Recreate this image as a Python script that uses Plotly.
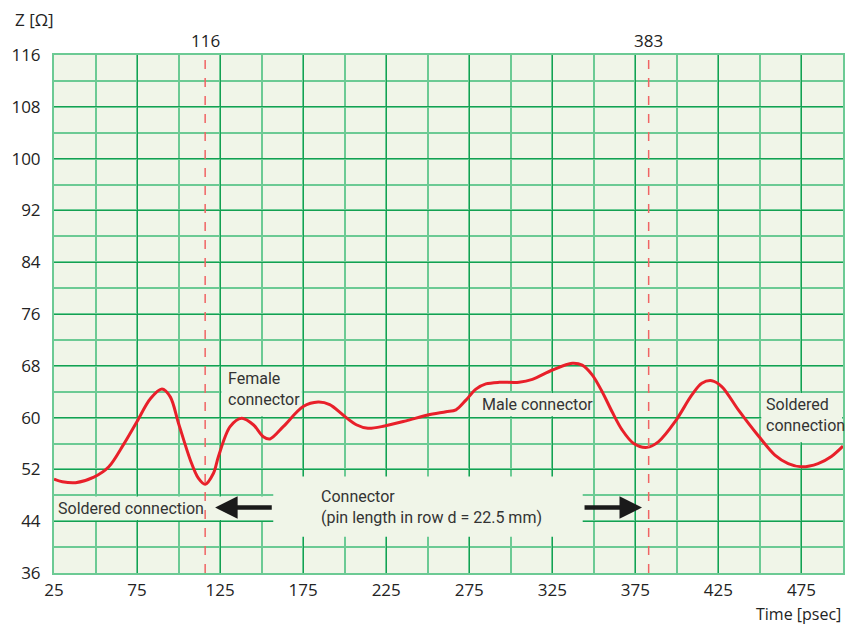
import plotly.graph_objects as go

# ---- data ----
time_ps = [25, 30, 38, 49, 58, 67, 75, 83, 90, 95, 100, 107, 112, 116, 121, 124, 131, 138,
           145, 151, 155, 163, 175, 184, 191, 199, 207, 214, 224, 237, 250, 261, 267, 273,
           279, 285, 293, 305, 313, 325, 337, 343, 349, 355, 361, 367, 374, 382, 389, 399,
           409, 415, 421, 427, 437, 449, 459, 467, 475, 485, 493, 500]
impedance = [50.5, 50.1, 49.95, 50.8, 52.4, 55.9, 59.4, 62.9, 64.4, 63.2, 59.1, 53.5, 50.6,
             49.7, 51.4, 54.0, 58.6, 59.9, 58.9, 57.05, 56.7, 58.6, 61.7, 62.4, 62.0, 60.4,
             58.9, 58.35, 58.7, 59.5, 60.4, 60.9, 61.2, 62.7, 64.4, 65.2, 65.45, 65.45, 65.9,
             67.35, 68.4, 68.1, 66.6, 64.0, 60.9, 58.1, 56.0, 55.4, 56.3, 59.4, 63.5, 65.3,
             65.7, 64.8, 61.2, 57.2, 54.2, 52.9, 52.4, 52.9, 54.0, 55.6]
marker_times = [116, 383]
x_ticks = [25, 75, 125, 175, 225, 275, 325, 375, 425, 475]
y_ticks = [36, 44, 52, 60, 68, 76, 84, 92, 100, 108, 116]

BG = "#F0F5E8"
GRID_DARK = "#14A052"
GRID_LIGHT = "#6CCA94"
TXT = "#232323"
LBL_FONT = "Roboto, sans-serif"
TICK_FONT = "Open Sans, Noto Sans, sans-serif"

fig = go.Figure()

fig.add_trace(go.Scatter(
    x=time_ps, y=impedance, mode="lines",
    line=dict(color="#E8202A", width=3, shape="spline", smoothing=0.9),
    hoverinfo="skip", showlegend=False))

# label boxes covering the grid
boxes = [
    (125.8, 174.2, 60.2, 67.8),   # Female connector
    (276.0, 349.0, 60.2, 63.8),   # Male connector
    (450.8, 499.5, 56.2, 63.8),   # Soldered connection (right)
    (25.8, 157.0, 44.2, 47.8),    # Soldered connection (left)
    (157.0, 343.3, 41.6, 50.9),   # Connector
]
shapes = []
for x0, x1, y0, y1 in boxes:
    shapes.append(dict(type="rect", xref="x", yref="y", x0=x0, x1=x1, y0=y0, y1=y1,
                       fillcolor=BG, line=dict(width=0), layer="between"))
for t in marker_times:
    shapes.append(dict(type="line", xref="x", yref="y", x0=t, x1=t, y0=36, y1=116,
                       line=dict(color="#F06464", width=1.5, dash="dash"), layer="above"))

annotations = []
for t in marker_times:
    annotations.append(dict(x=t, y=1, xref="x", yref="paper", yanchor="bottom", yshift=1,
                            text=str(t), showarrow=False,
                            font=dict(family=TICK_FONT, size=17, color=TXT)))

def lbl(x, y, text):
    annotations.append(dict(x=x, y=y, xref="x", yref="y", xanchor="left", yanchor="middle",
                            text=text, showarrow=False, align="left",
                            font=dict(family=LBL_FONT, size=16, color="#333333")))

lbl(128.6, 64.4, "Female<br>connector")
lbl(281.5, 62.1, "Male connector")
lbl(452.4, 60.4, "Soldered<br>connection")
lbl(26.5, 46.0, "Soldered connection")
lbl(184.5, 46.2, "Connector<br>(pin length in row d = 22.5 mm)")

# arrows
for head, tail in [(122, 157), (379, 343.5)]:
    annotations.append(dict(x=head, y=46.1, ax=tail, ay=46.1, xref="x", yref="y",
                            axref="x", ayref="y", text="", showarrow=True,
                            arrowhead=2, arrowsize=1.0, arrowwidth=4.5,
                            arrowcolor="#1A1A1A"))

annotations.append(dict(x=-0.052, y=1.0676, xref="paper", yref="paper", xanchor="left",
                        yanchor="middle", text="Z [Ω]", showarrow=False,
                        font=dict(family=TICK_FONT, size=17, color=TXT)))
annotations.append(dict(x=1.0, y=-0.0795, xref="paper", yref="paper", xanchor="right",
                        yanchor="middle", text="Time [psec]", showarrow=False,
                        font=dict(family=TICK_FONT, size=16, color=TXT)))

fig.update_layout(
    width=840, height=616,
    margin=dict(l=45, r=3, t=47, b=51),
    paper_bgcolor="white", plot_bgcolor=BG,
    shapes=shapes, annotations=annotations,
    showlegend=False,
)
fig.update_xaxes(range=[25, 500], tickvals=x_ticks, ticks="",
                 showgrid=True, gridcolor=GRID_DARK, gridwidth=1.3,
                 minor=dict(dtick=25, tick0=0, showgrid=True, gridcolor=GRID_LIGHT, gridwidth=2),
                 showline=True, linecolor=GRID_LIGHT, linewidth=2, mirror=True,
                 zeroline=False, ticklabelstandoff=1,
                 tickfont=dict(family=TICK_FONT, size=17, color=TXT))
fig.update_yaxes(range=[36, 116], tickvals=y_ticks, ticks="",
                 showgrid=True, gridcolor=GRID_DARK, gridwidth=1.3,
                 minor=dict(dtick=4, tick0=0, showgrid=True, gridcolor=GRID_LIGHT, gridwidth=2),
                 showline=True, linecolor=GRID_LIGHT, linewidth=2, mirror=True,
                 zeroline=False, ticklabelstandoff=8,
                 tickfont=dict(family=TICK_FONT, size=17, color=TXT))

fig.write_html("out.html")
